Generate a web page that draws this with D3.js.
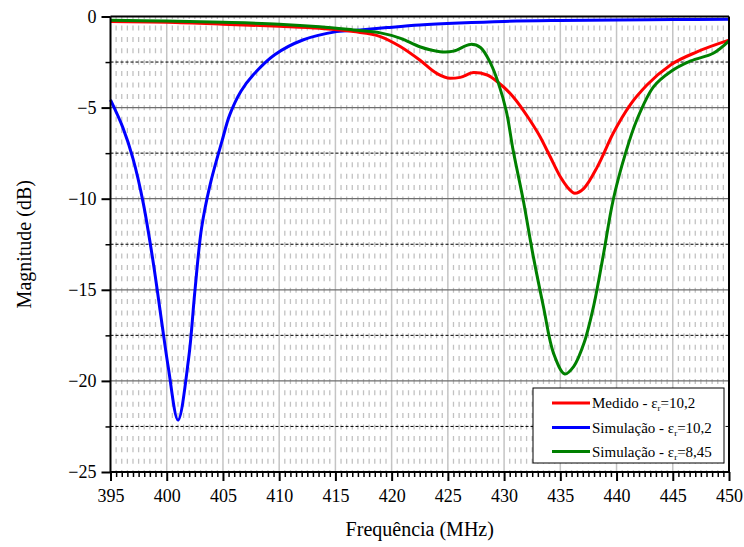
<!DOCTYPE html>
<html>
<head>
<meta charset="utf-8">
<script src="https://cdn.jsdelivr.net/npm/d3@7"></script>
<style>
body { margin: 0; background: #fff; }
svg { display: block; }
svg text { font-family: "Liberation Serif", "Times New Roman", Tinos, "DejaVu Serif", serif; fill: #000; }
</style>
</head>
<body>
<svg id="chart" width="744" height="547"></svg>
<script>
// ---- data ----
const xTicks = [395, 400, 405, 410, 415, 420, 425, 430, 435, 440, 445, 450];
const yTicks = [0, -5, -10, -15, -20, -25];

const medidoF = [395, 400, 405, 410, 413.6, 416.6, 419, 420.8, 422.5, 424.0, 425.2, 426.1, 427.3, 428.5, 429.4, 430.8, 432.2, 433.2, 434.1, 435.0, 435.6, 436.3, 437.1, 438.3, 439.7, 441.2, 442.7, 444.8, 447.2, 450];
const medidoV = [-0.28, -0.32, -0.42, -0.54, -0.65, -0.83, -1.1, -1.66, -2.39, -3.12, -3.39, -3.34, -3.08, -3.21, -3.58, -4.4, -5.6, -6.6, -7.7, -8.8, -9.34, -9.7, -9.43, -8.24, -6.41, -4.86, -3.76, -2.66, -1.93, -1.3];

const simBlueF = [395, 396.1, 397.0, 397.9, 398.8, 399.55, 400.15, 401.0, 401.95, 402.5, 403.1, 403.85, 404.9, 405.6, 406.6, 407.7, 409.6, 412.1, 415.1, 417.2, 419.6, 422.5, 426, 430, 435, 440, 445, 450];
const simBlueV = [-4.58, -6.1, -7.8, -10.2, -13.5, -16.75, -19.3, -22.15, -18.76, -15.1, -11.6, -9.25, -6.87, -5.4, -4.1, -3.2, -2.1, -1.29, -0.83, -0.74, -0.61, -0.47, -0.36, -0.27, -0.22, -0.19, -0.17, -0.15];

const simGreenF = [395, 400, 405, 410, 413.6, 416.6, 419, 420.8, 422.5, 424.3, 425.5, 427.0, 427.9, 428.8, 429.5, 430.2, 430.8, 431.7, 432.6, 433.5, 434.4, 435.4, 436.2, 437.1, 437.95, 438.8, 439.7, 440.8, 441.8, 443.3, 444.8, 446.6, 448.6, 450];
const simGreenV = [-0.2, -0.25, -0.32, -0.42, -0.56, -0.74, -0.9, -1.2, -1.66, -1.93, -1.9, -1.53, -1.7, -2.57, -3.67, -5.2, -7.33, -10.07, -13.18, -15.93, -18.49, -19.62, -19.2, -17.94, -15.93, -13.18, -10.07, -7.5, -5.68, -3.85, -3.03, -2.44, -2.02, -1.34];

const seriesNames = ["Medido - ε", "Simulação - ε", "Simulação - ε"];
const seriesSuffix = ["=10,2", "=10,2", "=8,45"];
const seriesColors = ["#ff0000", "#0000ff", "#008000"];

// ---- layout ----
const FONT = '"Liberation Serif", "Times New Roman", Tinos, "DejaVu Serif", serif';
const svg = d3.select("#chart");
const L = 110.5, R = 729, T = 16.5, B = 472;
const x = d3.scaleLinear().domain([395, 450]).range([L, R]);
const y = d3.scaleLinear().domain([0, -25]).range([T, B]);

// minor vertical dashed grid every 0.5 MHz
const minorX = d3.range(395.5, 450, 0.5).filter(v => Math.abs(v / 5 - Math.round(v / 5)) > 1e-6);
svg.append("g").selectAll("line").data(minorX).join("line")
  .attr("x1", d => x(d)).attr("x2", d => x(d))
  .attr("y1", T).attr("y2", B)
  .attr("stroke", "#c2c2c2").attr("stroke-width", 1.3)
  .attr("stroke-dasharray", "5,6.4").attr("stroke-dashoffset", -9);

// major vertical grid
svg.append("g").selectAll("line").data(xTicks.slice(1, -1)).join("line")
  .attr("x1", d => x(d)).attr("x2", d => x(d))
  .attr("y1", T).attr("y2", B)
  .attr("stroke", "#c4c4c4").attr("stroke-width", 1.5);

// minor horizontal dashed grid
const minorY = [-2.5, -7.5, -12.5, -17.5, -22.5];
svg.append("g").selectAll("line").data(minorY).join("line")
  .attr("x1", L).attr("x2", R)
  .attr("y1", d => y(d)).attr("y2", d => y(d))
  .attr("stroke", "#000").attr("stroke-width", 1)
  .attr("stroke-dasharray", "3,2");

// major horizontal grid
svg.append("g").selectAll("line").data(yTicks.slice(1, -1)).join("line")
  .attr("x1", L).attr("x2", R)
  .attr("y1", d => y(d)).attr("y2", d => y(d))
  .attr("stroke", "#6e6e6e").attr("stroke-width", 1.2);

// curves
const series = [
  {f: medidoF, v: medidoV, curve: d3.curveMonotoneX},
  {f: simBlueF, v: simBlueV, curve: d3.curveCatmullRom.alpha(0.5)},
  {f: simGreenF, v: simGreenV, curve: d3.curveCatmullRom.alpha(0.5)}
];
const drawOrder = [1, 0, 2];
drawOrder.forEach(i => {
  const s = series[i];
  const line = d3.line().curve(s.curve).x(d => x(d[0])).y(d => y(d[1]));
  svg.append("path")
    .datum(s.f.map((f, k) => [f, s.v[k]]))
    .attr("d", line)
    .attr("fill", "none")
    .attr("stroke", seriesColors[i])
    .attr("stroke-width", 3)
    .attr("stroke-linejoin", "round");
});

// axes
const xAxis = d3.axisBottom(x).tickValues(xTicks).tickSize(9).tickFormat(d3.format("d"));
const gx = svg.append("g").attr("transform", `translate(0,${B})`).call(xAxis).attr("font-family", FONT);
gx.select(".domain").attr("stroke-width", 2).attr("d", `M${L},0H${R}`);
gx.selectAll(".tick line").attr("stroke-width", 2);
gx.selectAll(".tick text").attr("font-size", 18).attr("font-family", FONT).attr("fill", "#000").attr("dy", "1.0em");

const xMinorAxis = d3.axisBottom(x).tickValues(minorX).tickSize(5).tickFormat("");
const gxm = svg.append("g").attr("transform", `translate(0,${B})`).call(xMinorAxis);
gxm.select(".domain").remove();
gxm.selectAll(".tick line").attr("stroke-width", 1.5);

const yAxis = d3.axisLeft(y).tickValues(yTicks).tickSize(9).tickFormat(d3.format("d"));
const gy = svg.append("g").attr("transform", `translate(${L},0)`).call(yAxis).attr("font-family", FONT);
gy.select(".domain").attr("stroke-width", 2).attr("d", `M0,${T}V${B}`);
gy.selectAll(".tick line").attr("stroke-width", 2);
gy.selectAll(".tick text").attr("font-size", 18).attr("font-family", FONT).attr("fill", "#000").attr("x", -14);

const yMinorAxis = d3.axisLeft(y).tickValues(minorY).tickSize(5).tickFormat("");
const gym = svg.append("g").attr("transform", `translate(${L},0)`).call(yMinorAxis);
gym.select(".domain").remove();
gym.selectAll(".tick line").attr("stroke-width", 1.5);

// top and right border
svg.append("line").attr("x1", L).attr("x2", R).attr("y1", T).attr("y2", T).attr("stroke", "#000").attr("stroke-width", 2);
svg.append("line").attr("x1", R).attr("x2", R).attr("y1", T).attr("y2", B).attr("stroke", "#000").attr("stroke-width", 2);

// axis titles
svg.append("text").attr("x", (L + R) / 2).attr("y", 536).attr("text-anchor", "middle")
  .attr("font-family", FONT).attr("font-size", 20).text("Frequência (MHz)");
svg.append("text").attr("transform", `translate(31,${(T + B) / 2}) rotate(-90)`).attr("text-anchor", "middle")
  .attr("font-family", FONT).attr("font-size", 20).text("Magnitude (dB)");

// legend
const lg = svg.append("g");
lg.append("rect").attr("x", 533).attr("y", 388).attr("width", 191).attr("height", 75)
  .attr("fill", "#fff").attr("stroke", "#000").attr("stroke-width", 1);
const legY = [403, 427.5, 451.5];
seriesNames.forEach((name, i) => {
  lg.append("line").attr("x1", 552).attr("x2", 590).attr("y1", legY[i]).attr("y2", legY[i])
    .attr("stroke", seriesColors[i]).attr("stroke-width", 3);
  const t = lg.append("text").attr("x", 592).attr("y", legY[i] + 5).attr("font-family", FONT).attr("font-size", 15);
  t.append("tspan").text(name);
  t.append("tspan").attr("font-size", 9).attr("dy", 3).text("r");
  t.append("tspan").attr("dy", -3).text(seriesSuffix[i]);
});
</script>
</body>
</html>
